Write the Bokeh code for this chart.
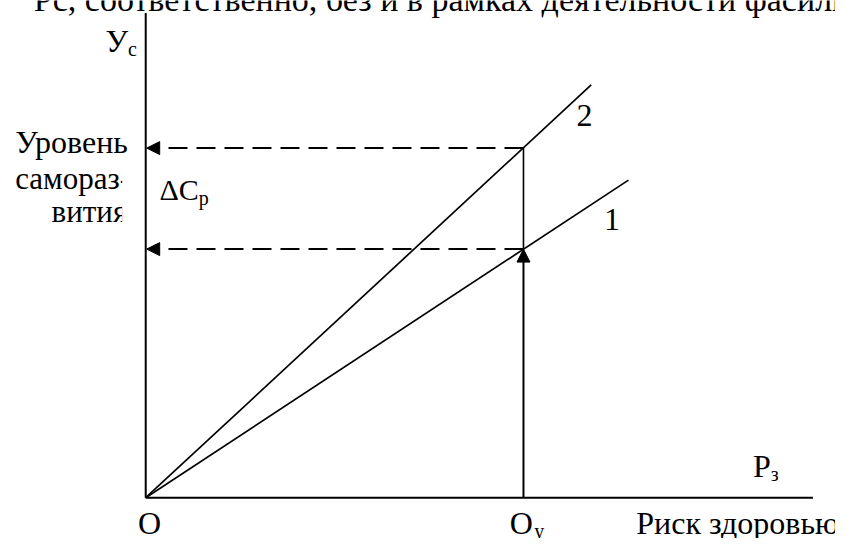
from bokeh.plotting import figure
from bokeh.models import Range1d, Arrow, NormalHead
from bokeh.core.properties import value
from bokeh.embed import file_html
from bokeh.resources import INLINE

# ---- diagram data (conceptual units, origin O at 0,0) ----
axis_x_end = 680          # end of horizontal axis (Рз)
axis_y_end = 499          # end of vertical axis (Ус)
line2_x = [0, 454]        # line 2 (with facilitator)
line2_y = [0, 425]
line1_x = [0, 492]        # line 1 (without facilitator)
line1_y = [0, 327]
oy_x = 385                # point Оу on the risk axis
level2 = 360              # self-development level on line 2
level1 = 256              # self-development level on line 1

top_text = "Рс, соответственно, без и в рамках деятельности фасилитатора"
ylabel_lines = ["Уровень", "самораз-", "вития"]
xlabel = "Риск здоровью"

FONT = value("Liberation Serif")

p = figure(width=835, height=538, output_backend="svg", toolbar_location=None,
           x_range=Range1d(-148, 703), y_range=Range1d(-42, 512),
           x_axis_location=None, y_axis_location=None, min_border=0,
           tools="")
p.grid.visible = False
p.outline_line_color = None
p.background_fill_color = "white"
p.border_fill_color = "white"

def txt(x, y, s, size, align="left"):
    # y is the baseline; compensate the renderer's baseline placement
    dy = round(size * 0.41)
    p.text(x=[x], y=[y + dy], text=[s], text_font=FONT, text_font_size=f"{size}px",
           text_color="black", text_align=align, text_baseline="alphabetic")

# top (cut-off) sentence
txt(-114, 499, top_text, 34)

# y-axis description (clipped box)
txt(-133, 353, ylabel_lines[0], 32)
txt(-133, 316, ylabel_lines[1], 31)
txt(-96, 282, ylabel_lines[2], 31)
# mask emulating the clipped text box
p.quad(left=[-24], right=[-2], bottom=[270], top=[345], fill_color="white", line_color=None)

# axes
p.line([0, 0], [0, axis_y_end], line_color="black", line_width=2)
p.line([0, axis_x_end], [0, 0], line_color="black", line_width=2)

# lines 1 and 2
p.line(line2_x, line2_y, line_color="black", line_width=1.7)
p.line(line1_x, line1_y, line_color="black", line_width=1.7)

# vertical from Oy up to line 2
p.line([oy_x, oy_x], [level1, level2], line_color="black", line_width=1.6)
p.add_layout(Arrow(x_start=oy_x, y_start=0, x_end=oy_x, y_end=level1,
                   line_color="black", line_width=2,
                   end=NormalHead(size=13, fill_color="black", line_color="black", line_width=1)))

# dashed arrows to the y axis
for lvl in (level2, level1):
    p.add_layout(Arrow(x_start=oy_x, y_start=lvl, x_end=1, y_end=lvl,
                       line_color="black", line_width=2, line_dash="19 9",
                       end=NormalHead(size=13, fill_color="black", line_color="black", line_width=1)))

# labels
txt(-41, 457, "У", 32)
txt(-18, 454, "с", 20)
txt(14, 305, "ΔC", 30)
txt(54, 301, "р", 20)
txt(439, 381, "2", 32)
txt(467, 273, "1", 32)
txt(619, 20, "Р", 32)
txt(637, 16, "з", 20)
txt(4, -39, "О", 32, align="center")
txt(371, -39, "О", 32)
txt(396, -42, "у", 20)
txt(500, -39, xlabel, 32)

open("out.html", "w").write(file_html(p, INLINE))
